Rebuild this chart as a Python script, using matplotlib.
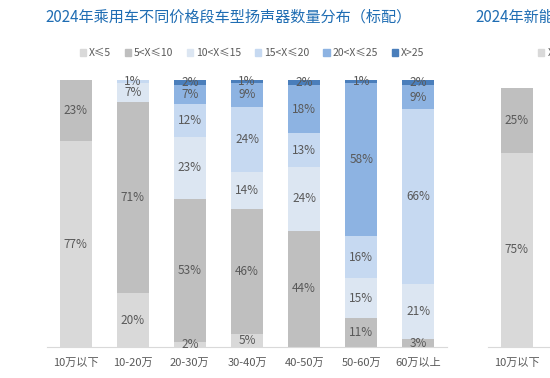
import matplotlib.pyplot as plt
from matplotlib.patches import Patch
import numpy as np

plt.rcParams['font.family'] = ['Noto Sans CJK SC', 'DejaVu Sans']

# price segments and speaker-count shares (%), stacked bottom to top
cats = ['10万以下', '10-20万', '20-30万', '30-40万', '40-50万', '50-60万', '60万以上']
series = ['X≤5', '5<X≤10', '10<X≤15', '15<X≤20', '20<X≤25', 'X>25']
s_le5 = [77, 20, 2, 5, 0, 0, 0]
s_5_10 = [23, 71, 53, 46, 44, 11, 3]
s_10_15 = [0, 7, 23, 14, 24, 15, 21]
s_15_20 = [0, 1, 12, 24, 13, 16, 66]
s_20_25 = [0, 0, 7, 9, 18, 58, 9]
s_gt25 = [0, 0, 2, 1, 2, 1, 2]

# second chart (new energy), only first bar visible
cats2 = ['10万以下']
ne_le5 = [75]
ne_5_10 = [25]

colors = ['#d9d9d9', '#bfbfbf', '#dce6f2', '#c6d9f1', '#8db3e2', '#4a7ebb']
txt = '#595959'
W, H = 550, 378

fig = plt.figure(figsize=(5.5, 3.78), dpi=100)


def stack(ax, labels, data):
    data = np.array(data, dtype=float)
    pct = data / data.sum(axis=0) * 100  # 100% stacked
    x = np.arange(len(labels))
    bottom = np.zeros(len(labels))
    for vals, shown, c in zip(pct, data, colors):
        ax.bar(x, vals, 0.56, bottom=bottom, color=c)
        for xi, b, v, s in zip(x, bottom, vals, shown):
            if s > 0:
                ax.text(xi, b + v / 2, f'{int(s)}%', ha='center', va='center',
                        fontsize=8.5, color=txt)
        bottom += vals
    ax.set_xlim(-0.5, len(cats) - 0.5)
    ax.set_ylim(0, 100)
    ax.set_xticks(x)
    ax.set_xticklabels(labels, fontsize=8, color=txt)
    ax.tick_params(axis='x', length=0, pad=8)
    ax.set_yticks([])
    for s in ['left', 'right', 'top']:
        ax.spines[s].set_visible(False)
    ax.spines['bottom'].set_color('#d9d9d9')


ax1 = fig.add_axes([47 / W, 31 / H, 400 / W, 267 / H])
stack(ax1, cats, [s_le5, s_5_10, s_10_15, s_15_20, s_20_25, s_gt25])

ax2 = fig.add_axes([488 / W, 31 / H, 400 / W, 259 / H])
stack(ax2, cats2, [ne_le5, ne_5_10])

fig.text(45 / W, 1 - 17 / H, '2024年乘用车不同价格段车型扬声器数量分布（标配）',
         fontsize=10.9, color='#1f6db3', va='center')
fig.text(475 / W, 1 - 17 / H, '2024年新能源乘用车不同价格段车型扬声器数量分布（标配）',
         fontsize=10.9, color='#1f6db3', va='center')

handles = [Patch(color=c) for c in colors]
leg_kw = dict(frameon=False, ncol=6, fontsize=7.5, handlelength=0.6,
              handleheight=0.6, handletextpad=0.3, columnspacing=1.3,
              borderpad=0, labelcolor=txt)
fig.legend(handles, series, loc='center', bbox_to_anchor=(252 / W, 1 - 53 / H), **leg_kw)
fig.legend(handles, series, loc='center left', bbox_to_anchor=(533 / W, 1 - 53 / H), **leg_kw)

fig.savefig('out.png', dpi=100)
